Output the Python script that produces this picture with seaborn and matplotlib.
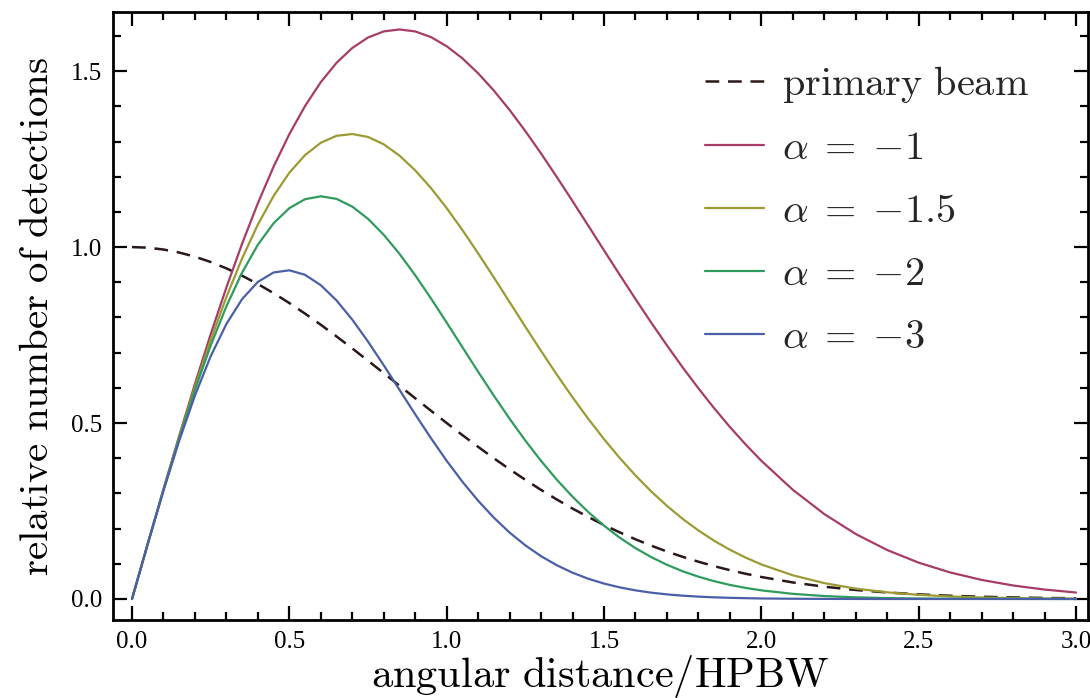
import numpy as np
import pandas as pd
import matplotlib
matplotlib.use("Agg")
import matplotlib.pyplot as plt
import seaborn as sns
from matplotlib.ticker import MultipleLocator

# angular distance / HPBW
x = [0.0, 0.05, 0.1, 0.15, 0.2, 0.25, 0.3, 0.35, 0.4, 0.45, 0.5, 0.55, 0.6, 0.65,
     0.7, 0.75, 0.8, 0.85, 0.9, 0.95, 1.0, 1.05, 1.1, 1.15, 1.2, 1.25, 1.3, 1.35,
     1.4, 1.45, 1.5, 1.55, 1.6, 1.65, 1.7, 1.75, 1.8, 1.85, 1.9, 1.95, 2.0, 2.1,
     2.2, 2.3, 2.4, 2.5, 2.6, 2.7, 2.8, 2.9, 3.0]

primary_beam = [1.0, 0.9983, 0.9931, 0.9845, 0.9727, 0.9576, 0.9395, 0.9186, 0.8950,
                0.8690, 0.8409, 0.8108, 0.7792, 0.7461, 0.7120, 0.6771, 0.6417, 0.6061,
                0.5704, 0.5350, 0.5000, 0.4657, 0.4323, 0.3998, 0.3686, 0.3386, 0.3099,
                0.2827, 0.2570, 0.2329, 0.2102, 0.1892, 0.1696, 0.1515, 0.1349, 0.1197,
                0.1059, 0.0933, 0.0819, 0.0717, 0.0625, 0.0470, 0.0349, 0.0256, 0.0185,
                0.0131, 0.0092, 0.0064, 0.0044, 0.0029, 0.0020]

alpha_m1 = [0.0, 0.1568, 0.3120, 0.4639, 0.6111, 0.7521, 0.8855, 1.0100, 1.1247, 1.2286,
            1.3209, 1.4010, 1.4687, 1.5237, 1.5658, 1.5955, 1.6128, 1.6184, 1.6128,
            1.5967, 1.5708, 1.5362, 1.4938, 1.4446, 1.3895, 1.3295, 1.2658, 1.1991,
            1.1305, 1.0607, 0.9906, 0.9211, 0.8524, 0.7854, 0.7205, 0.6580, 0.5986,
            0.5421, 0.4888, 0.4391, 0.3927, 0.3103, 0.2413, 0.1846, 0.1391, 0.1032,
            0.0754, 0.0542, 0.0384, 0.0268, 0.0184]

alpha_m15 = [0.0, 0.1567, 0.3109, 0.4603, 0.6027, 0.7360, 0.8583, 0.9681, 1.0640, 1.1453,
             1.2113, 1.2616, 1.2964, 1.3162, 1.3213, 1.3129, 1.2920, 1.2599, 1.2180,
             1.1678, 1.1107, 1.0484, 0.9821, 0.9135, 0.8436, 0.7736, 0.7047, 0.6376,
             0.5731, 0.5119, 0.4542, 0.4006, 0.3510, 0.3057, 0.2646, 0.2276, 0.1948,
             0.1655, 0.1399, 0.1176, 0.0982, 0.0673, 0.0451, 0.0295, 0.0189, 0.0118,
             0.0072, 0.0043, 0.0025, 0.0014, 0.0008]

alpha_m2 = [0.0, 0.1565, 0.3098, 0.4568, 0.5944, 0.7202, 0.8319, 0.9278, 1.0067, 1.0677,
            1.1107, 1.1360, 1.1443, 1.1369, 1.1149, 1.0803, 1.0349, 0.9808, 0.9199,
            0.8542, 0.7854, 0.7154, 0.6457, 0.5776, 0.5121, 0.4501, 0.3923, 0.3390,
            0.2906, 0.2470, 0.2083, 0.1742, 0.1445, 0.1190, 0.0972, 0.0787, 0.0634,
            0.0506, 0.0400, 0.0315, 0.0245, 0.0146, 0.0084, 0.0047, 0.0026, 0.0014,
            0.0007, 0.0003, 0.0002, 0.0001, 0.0000]

alpha_m3 = [0.0, 0.1563, 0.3077, 0.4497, 0.5782, 0.6897, 0.7816, 0.8523, 0.9010, 0.9279,
            0.9340, 0.9212, 0.8916, 0.8483, 0.7938, 0.7315, 0.6642, 0.5944, 0.5247,
            0.4570, 0.3927, 0.3332, 0.2792, 0.2310, 0.1887, 0.1524, 0.1216, 0.0959,
            0.0747, 0.0575, 0.0438, 0.0330, 0.0245, 0.0180, 0.0131, 0.0094, 0.0067,
            0.0047, 0.0033, 0.0023, 0.0015, 0.0007, 0.0003, 0.0001, 0.0000, 0.0000,
            0.0000, 0.0000, 0.0000, 0.0000, 0.0000]

labels = [r"$\mathrm{primary\ beam}$", r"$\alpha\;=\;{-1}$", r"$\alpha\;=\;{-1.5}$",
          r"$\alpha\;=\;{-2}$", r"$\alpha\;=\;{-3}$"]
series = [primary_beam, alpha_m1, alpha_m15, alpha_m2, alpha_m3]
colors = ["#2a1818", "#a63c67", "#9c9a33", "#2f9b5d", "#4a5fa8"]

x_ticks = [0.0, 0.5, 1.0, 1.5, 2.0, 2.5, 3.0]
y_ticks = [0.0, 0.5, 1.0, 1.5]

sns.set_style("ticks")
plt.rcParams["font.family"] = ["Liberation Serif", "DejaVu Serif"]
plt.rcParams["mathtext.fontset"] = "cm"

fig = plt.figure(figsize=(10.9, 6.98), dpi=100)
ax = fig.add_axes([113 / 1090, 78 / 698, 975 / 1090, 608 / 698])

for i, (lab, vals, col) in enumerate(zip(labels, series, colors)):
    df = pd.DataFrame({"x": x, "y": vals})
    if i == 0:
        sns.lineplot(data=df, x="x", y="y", ax=ax, color=col, lw=1.8,
                     linestyle=(0, (5.5, 3.5)), label=lab)
    else:
        sns.lineplot(data=df, x="x", y="y", ax=ax, color=col, lw=1.6, label=lab)

ax.set_xlim(-0.0604, 3.038)
ax.set_ylim(-0.0597, 1.668)
ax.set_xticks(x_ticks)
ax.set_yticks(y_ticks)
ax.set_xticklabels([f"{t:.1f}" for t in x_ticks])
ax.set_yticklabels([f"{t:.1f}" for t in y_ticks])
ax.xaxis.set_minor_locator(MultipleLocator(0.1))
ax.yaxis.set_minor_locator(MultipleLocator(0.1))
ax.tick_params(which="both", direction="in", top=True, right=True, width=1.6,
               labelsize=18, pad=8, color="black", labelcolor="black")
ax.tick_params(which="major", length=10)
ax.tick_params(which="minor", length=6)
for s in ax.spines.values():
    s.set_linewidth(2.0)
    s.set_color("black")
    s.set_visible(True)

ax.set_xlabel(r"$\mathrm{angular\ distance/HPBW}$", fontsize=30.5, labelpad=0,
              color="black")
ax.set_ylabel(r"$\mathrm{relative\ number\ of\ detections}$", fontsize=29.5,
              labelpad=10, color="black")

leg = ax.legend(loc="upper left", bbox_to_anchor=(685 / 1090, 1 - 44 / 698),
                bbox_transform=fig.transFigure, frameon=False, fontsize=29,
                handlelength=1.45, handletextpad=0.45, labelspacing=0.64, borderpad=0)

fig.savefig("out.png", dpi=100)
